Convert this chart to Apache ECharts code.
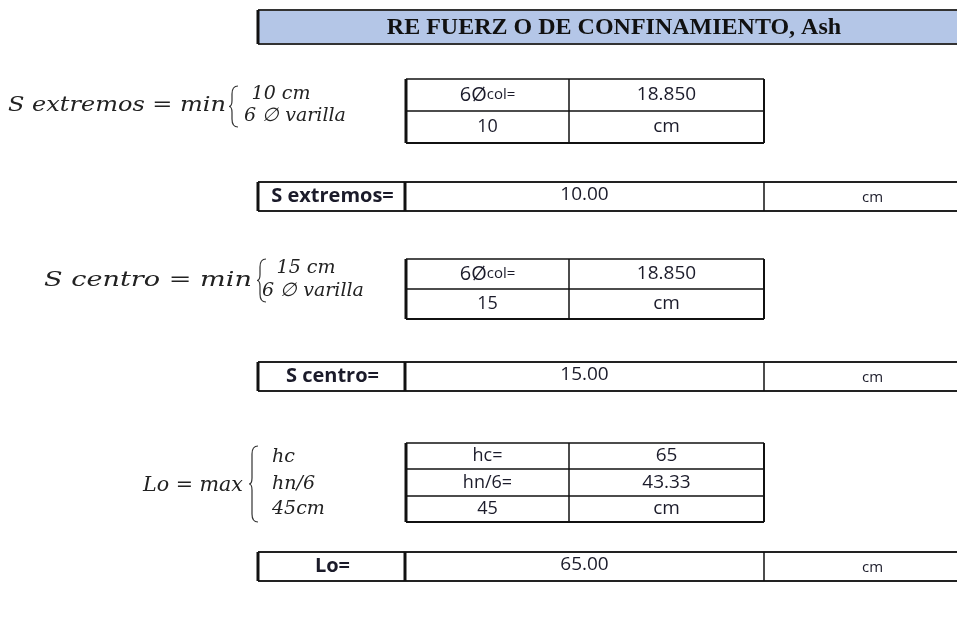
<!DOCTYPE html>
<html><head><meta charset="utf-8">
<script src="https://cdn.jsdelivr.net/npm/echarts@6/dist/echarts.min.js"></script>
<style>html,body{margin:0;padding:0;background:#fff}#c{width:957px;height:634px}</style>
</head><body><div id="c"></div>
<script>
// ---- content ----
const titleText = "RE FUERZ O DE CONFINAMIENTO, Ash";
const formulaLabels = ["S extremos = min", "S centro = min", "Lo = max"];
const formulaOptions = [["10 cm", "6 \u2205 varilla"], ["15 cm", "6 \u2205 varilla"], ["hc", "hn/6", "45cm"]];
const inputLabels = [["6\u00d8|col=", "10"], ["6\u00d8|col=", "15"], ["hc=", "hn/6=", "45"]];
const inputValues = [["18.850", "cm"], ["18.850", "cm"], ["65", "43.33", "cm"]];
const resultLabels = ["S extremos=", "S centro=", "Lo="];
const resultValues = ["10.00", "15.00", "65.00"];
const resultUnits = ["cm", "cm", "cm"];

// ---- layout (pixel space of the hidden axes) ----
const W = 957, H = 634;
const TITLE_BOX = [258, 960, 10, 44];
const TABLE_X = [406, 569, 764];
const BOX_X = [258, 405, 764, 960];
const sectionLayout = [
  { tableY: [79, 111, 143], boxY: [182, 211], labelSpan: [8, 226], braceX: 229, braceY: [86, 127], optX: [281, 244], optAlign: ['center', 'left'], optY: [94, 116], formulaY: 106 },
  { tableY: [259, 289, 319], boxY: [362, 391], labelSpan: [44, 252], braceX: 257, braceY: [259, 302], optX: [306, 262], optAlign: ['center', 'left'], optY: [268, 291], formulaY: 281 },
  { tableY: [443, 469, 496, 522], boxY: [552, 581], labelSpan: [143, 243], braceX: 249, braceY: [446, 522], optX: [272, 272, 272], optAlign: ['left', 'left', 'left'], optY: [457, 484, 509], formulaY: 486 }
];
const CELL_FONT = '"Open Sans", Lato, sans-serif';
const MATH_FONT = '"DejaVu Serif", "Liberation Serif", serif';
const TITLE_FONT = '"Liberation Serif", serif';
const TXT = '#1b1b2a';
const LABEL_SIZE = 21;

const measureCtx = document.createElement('canvas').getContext('2d');
function textWidth(s, font) { measureCtx.font = font; return measureCtx.measureText(s).width; }

// ---- build element list ----
const els = [];
function line(x0, y0, x1, y1, w, c) { els.push({ t: 'line', x0, y0, x1, y1, w: w || 1.5, c: c || '#111' }); }
function text(x, y, s, o) { els.push(Object.assign({ t: 'text', x, y, s }, o || {})); }

// title
els.push({ t: 'rect', x0: TITLE_BOX[0], y0: TITLE_BOX[2], x1: TITLE_BOX[1], y1: TITLE_BOX[3], fill: '#b4c6e7' });
line(TITLE_BOX[0], TITLE_BOX[2], TITLE_BOX[1], TITLE_BOX[2], 2, '#333');
line(TITLE_BOX[0], TITLE_BOX[3], TITLE_BOX[1], TITLE_BOX[3], 2, '#333');
line(TITLE_BOX[0], TITLE_BOX[2], TITLE_BOX[0], TITLE_BOX[3], 3, '#111');
text(614, (TITLE_BOX[2] + TITLE_BOX[3]) / 2 + 1, titleText, { font: TITLE_FONT, size: 24, weight: 'bold', color: '#111', align: 'center' });

sectionLayout.forEach((L, k) => {
  // formula label stretched over its span (Cambria Math is wider than the available fonts)
  const mfont = 'italic ' + LABEL_SIZE + 'px ' + MATH_FONT;
  const natural = textWidth(formulaLabels[k], mfont);
  const sx = (L.labelSpan[1] - L.labelSpan[0]) / natural;
  text(L.labelSpan[0], L.formulaY, formulaLabels[k], { font: MATH_FONT, size: LABEL_SIZE, style: 'italic', color: '#222', align: 'left', sx });
  els.push({ t: 'brace', x: L.braceX, y0: L.braceY[0], y1: L.braceY[1] });
  formulaOptions[k].forEach((o, j) => {
    text(L.optX[j], L.optY[j], o, { font: MATH_FONT, size: 19, style: 'italic', color: '#222', align: L.optAlign[j] });
  });
  // input table
  const ys = L.tableY;
  for (let r = 0; r < ys.length; r++) line(TABLE_X[0], ys[r], TABLE_X[2], ys[r], r === ys.length - 1 ? 2 : 1.5);
  line(TABLE_X[0], ys[0], TABLE_X[0], ys[ys.length - 1], 3);
  line(TABLE_X[1], ys[0], TABLE_X[1], ys[ys.length - 1], 1.5);
  line(TABLE_X[2], ys[0], TABLE_X[2], ys[ys.length - 1], 2);
  inputLabels[k].forEach((lab, r) => {
    const cy = (ys[r] + ys[r + 1]) / 2;
    text((TABLE_X[0] + TABLE_X[1]) / 2, cy, lab, { font: CELL_FONT, size: 18, color: TXT, align: 'center', rich: lab.indexOf('|') >= 0 });
    text((TABLE_X[1] + TABLE_X[2]) / 2, cy, inputValues[k][r], { font: CELL_FONT, size: 19, color: TXT, align: 'center' });
  });
  // result box
  const by = L.boxY;
  line(BOX_X[0], by[0], BOX_X[3], by[0], 2, '#222');
  line(BOX_X[0], by[1], BOX_X[3], by[1], 2, '#222');
  line(BOX_X[0], by[0], BOX_X[0], by[1], 3);
  line(BOX_X[1], by[0], BOX_X[1], by[1], 3);
  line(BOX_X[2], by[0], BOX_X[2], by[1], 1.5);
  const cy = (by[0] + by[1]) / 2;
  text((BOX_X[0] + BOX_X[1]) / 2 + 1, cy, resultLabels[k], { font: CELL_FONT, size: 20, weight: 'bold', color: TXT, align: 'center' });
  text((BOX_X[1] + BOX_X[2]) / 2, cy - 2, resultValues[k], { font: CELL_FONT, size: 19, color: TXT, align: 'center' });
  text((BOX_X[2] + 957) / 2 + 12, cy + 1, resultUnits[k], { font: CELL_FONT, size: 15, color: TXT, align: 'center' });
});

function renderItem(params, api) {
  const e = els[params.dataIndex];
  if (e.t === 'rect') {
    const p0 = api.coord([e.x0, e.y0]), p1 = api.coord([e.x1, e.y1]);
    return { type: 'rect', shape: { x: p0[0], y: p0[1], width: p1[0] - p0[0], height: p1[1] - p0[1] }, style: { fill: e.fill } };
  }
  if (e.t === 'line') {
    const p0 = api.coord([e.x0, e.y0]), p1 = api.coord([e.x1, e.y1]);
    return { type: 'line', shape: { x1: p0[0], y1: p0[1], x2: p1[0], y2: p1[1] }, style: { stroke: e.c, lineWidth: e.w } };
  }
  if (e.t === 'brace') {
    const a = api.coord([e.x, e.y0]), b = api.coord([e.x, e.y1]);
    const x = a[0], y0 = a[1], y1 = b[1], m = (y0 + y1) / 2, w = 9;
    const d = `M${x + w},${y0} Q${x + 3},${y0} ${x + 3},${y0 + 8} L${x + 3},${m - 6} Q${x + 3},${m} ${x},${m} Q${x + 3},${m} ${x + 3},${m + 6} L${x + 3},${y1 - 8} Q${x + 3},${y1} ${x + w},${y1}`;
    return { type: 'path', shape: { pathData: d }, style: { stroke: '#333', lineWidth: 1.2, fill: null } };
  }
  const p = api.coord([e.x, e.y]);
  let str = e.s, rich;
  if (e.rich) {
    const parts = e.s.split('|');
    str = '{a|' + parts[0] + '}{b|' + parts[1] + '}';
    rich = { a: { fontSize: 20, fontFamily: e.font, fill: e.color }, b: { fontSize: 15, fontFamily: e.font, fill: e.color } };
  }
  return {
    type: 'text', x: p[0], y: p[1], scaleX: e.sx || 1,
    style: { text: str, rich, fill: e.color, fontFamily: e.font, fontSize: e.size, fontWeight: e.weight || 'normal', fontStyle: e.style || 'normal', align: e.align, verticalAlign: 'middle' }
  };
}

const chart = echarts.init(document.getElementById('c'), null, { renderer: 'canvas' });
chart.setOption({
  animation: false,
  backgroundColor: '#ffffff',
  grid: { left: 0, right: 0, top: 0, bottom: 0 },
  xAxis: { type: 'value', min: 0, max: W, show: false },
  yAxis: { type: 'value', min: 0, max: H, inverse: true, show: false },
  series: [{ type: 'custom', renderItem, data: els.map((e, i) => [i]), clip: false, silent: true }]
});
</script></body></html>
